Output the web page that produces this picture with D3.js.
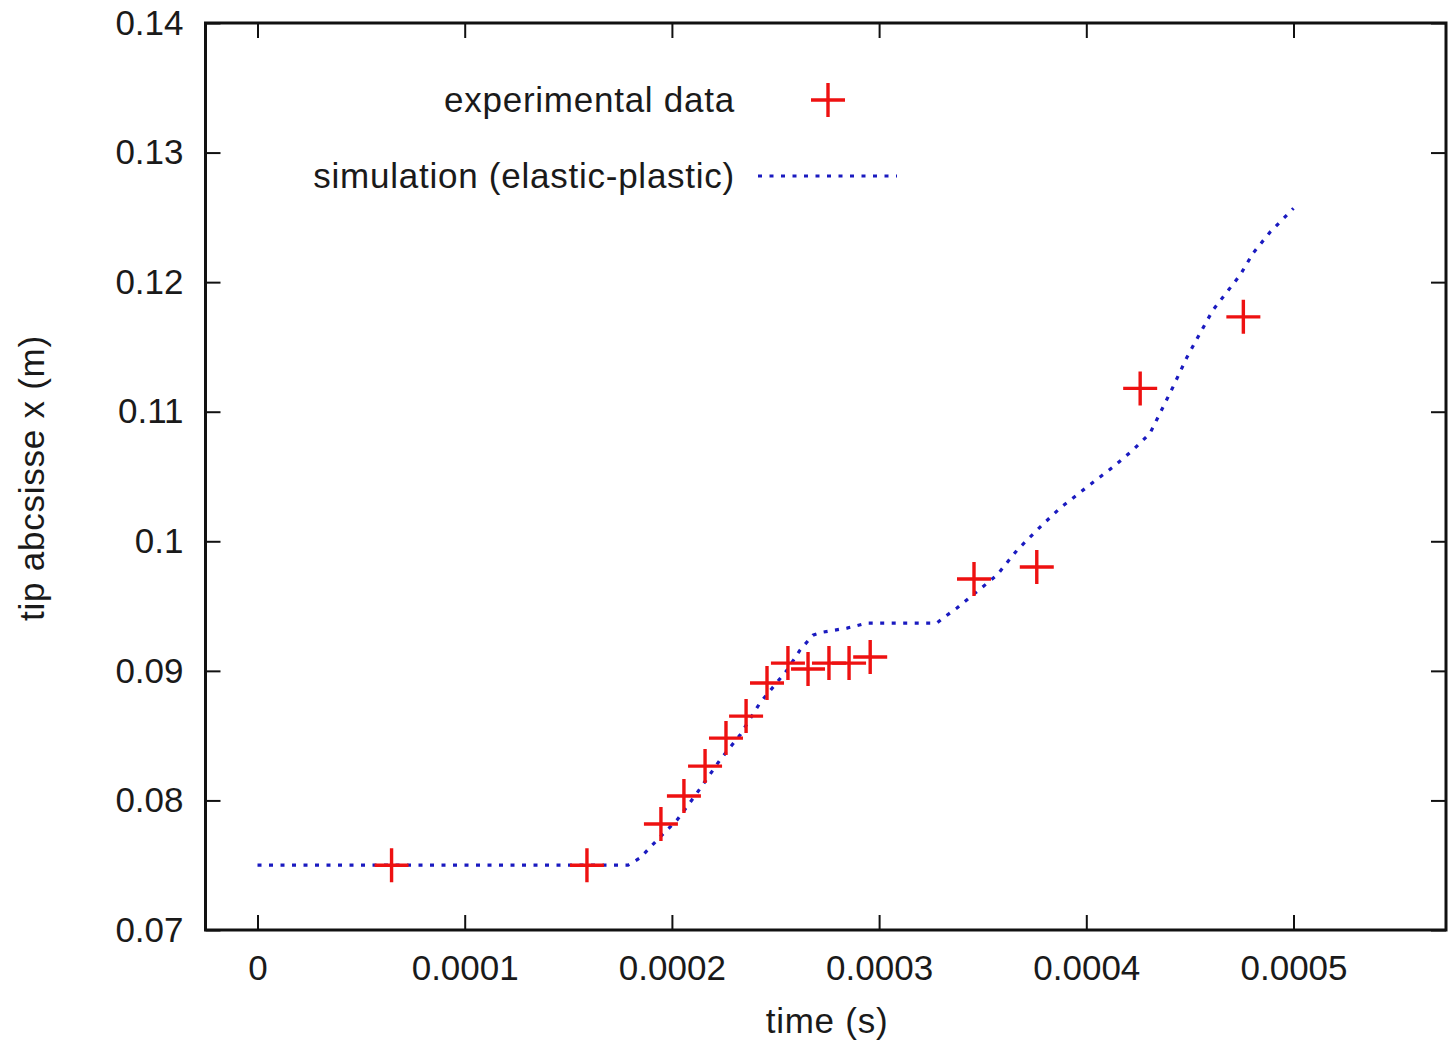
<!DOCTYPE html>
<html>
<head>
<meta charset="UTF-8">
<title>tip abcsisse vs time</title>
<script src="https://cdn.jsdelivr.net/npm/d3@7"></script>
<style>
    body { margin: 0; background: #fff; }
    svg text { font-family: "Liberation Sans", Arial, Helvetica, sans-serif; fill: #1a1a1a; }
    svg text.label { letter-spacing: 0.75px; }
</style>
</head>
<body>
<div id="chart"></div>
<script>
    const expTime = [0.0000647, 0.000159, 0.0001947, 0.0002058, 0.000216, 0.0002261, 0.0002358,
        0.0002459, 0.000256, 0.0002657, 0.0002758, 0.0002855, 0.0002957, 0.0003458,
        0.0003761, 0.000426, 0.0004758];
    const expX = [0.075, 0.075, 0.07818, 0.08034, 0.08265, 0.08481, 0.08651,
        0.08906, 0.0906, 0.09014, 0.0906, 0.0906, 0.09107, 0.09709,
        0.09801, 0.1118, 0.11732];

    // simulation (elastic-plastic)
    const simTime = [0, 0.0001788, 0.0001846, 0.0001943, 0.0002025, 0.0002121, 0.0002232, 0.0002329,
        0.0002425, 0.0002556, 0.0002618, 0.0002681, 0.0002729, 0.0002845, 0.0002942, 0.0003279,
        0.0003308, 0.0003376, 0.0003463, 0.0003569, 0.0003666, 0.0003777, 0.0003873, 0.0004003,
        0.0004129, 0.0004225, 0.0004308, 0.0004356, 0.0004418, 0.0004486, 0.0004549, 0.0004611,
        0.0004742, 0.0004805, 0.0004887, 0.0005];
    const simX = [0.075, 0.075, 0.07556, 0.07718, 0.07849, 0.08057, 0.08312, 0.08505,
        0.08752, 0.09006, 0.0916, 0.09276, 0.09299, 0.0933, 0.09369, 0.09369,
        0.09407, 0.09485, 0.096, 0.09739, 0.09932, 0.1011, 0.10256, 0.10418,
        0.10573, 0.10704, 0.10835, 0.10989, 0.1119, 0.11421, 0.11606, 0.11784,
        0.12054, 0.12224, 0.12386, 0.1257];

    const xTicks = [0, 0.0001, 0.0002, 0.0003, 0.0004, 0.0005];
    const xTickLabels = ["0", "0.0001", "0.0002", "0.0003", "0.0004", "0.0005"];
    const yTicks = [0.07, 0.08, 0.09, 0.1, 0.11, 0.12, 0.13, 0.14];
    const yTickLabels = ["0.07", "0.08", "0.09", "0.1", "0.11", "0.12", "0.13", "0.14"];

    const legendLabels = ["experimental data", "simulation (elastic-plastic)"];

    const svgWidth = 1448, svgHeight = 1040;
    const plotLeft = 205.5, plotRight = 1446, plotTop = 23, plotBottom = 930;
    const fontSize = 35;

    const svg = d3.select("#chart").append("svg")
        .attr("width", svgWidth)
        .attr("height", svgHeight);

    const xScale = d3.scaleLinear().domain([-0.0000251, 0.0005736]).range([plotLeft, plotRight]);
    const yScale = d3.scaleLinear().domain([0.07, 0.14]).range([plotBottom, plotTop]);

    // axes, ticks pointing inward like gnuplot
    const fmtX = d => xTickLabels[xTicks.indexOf(d)];
    const fmtY = d => yTickLabels[yTicks.indexOf(d)];

    const axB = svg.append("g").attr("transform", `translate(0,${plotBottom})`)
        .call(d3.axisBottom(xScale).tickValues(xTicks).tickFormat(fmtX).tickSize(-15).tickPadding(25));
    const axT = svg.append("g").attr("transform", `translate(0,${plotTop})`)
        .call(d3.axisTop(xScale).tickValues(xTicks).tickFormat("").tickSize(-15));
    const axL = svg.append("g").attr("transform", `translate(${plotLeft},0)`)
        .call(d3.axisLeft(yScale).tickValues(yTicks).tickFormat(fmtY).tickSize(-15).tickPadding(22));
    const axR = svg.append("g").attr("transform", `translate(${plotRight},0)`)
        .call(d3.axisRight(yScale).tickValues(yTicks).tickFormat("").tickSize(-15));

    [axB, axT, axL, axR].forEach(a => {
        a.select(".domain").remove();
        a.selectAll(".tick line").attr("stroke", "#111").attr("stroke-width", 2);
        a.selectAll(".tick text").attr("font-size", fontSize).attr("font-family", null).attr("fill", "#1a1a1a");
    });

    // frame
    svg.append("rect")
        .attr("x", plotLeft).attr("y", plotTop)
        .attr("width", plotRight - plotLeft).attr("height", plotBottom - plotTop)
        .attr("fill", "none").attr("stroke", "#111").attr("stroke-width", 3);

    // axis titles
    svg.append("text").attr("class", "label")
        .attr("x", 827).attr("y", 1033)
        .attr("text-anchor", "middle").attr("font-size", fontSize)
        .text("time (s)");
    svg.append("text").attr("class", "label")
        .attr("transform", "translate(44,478) rotate(-90)")
        .attr("text-anchor", "middle").attr("font-size", fontSize)
        .text("tip abcsisse x (m)");

    // simulation line
    const simData = simTime.map((t, i) => ({t: t, x: simX[i]}));
    const line = d3.line().x(d => xScale(d.t)).y(d => yScale(d.x));
    const lineStyle = sel => sel.attr("fill", "none")
        .attr("stroke", "#1a1ac0")
        .attr("stroke-width", 3.2)
        .attr("stroke-dasharray", "4,7.5");

    svg.append("path").datum(simData).attr("d", line).call(lineStyle);

    // experimental crosses
    const crossPath = "M-17,0H17M0,-17V17";
    const expData = expTime.map((t, i) => ({t: t, x: expX[i]}));
    svg.selectAll("path.cross")
        .data(expData)
        .enter()
        .append("path")
        .attr("class", "cross")
        .attr("transform", d => `translate(${xScale(d.t)},${yScale(d.x)})`)
        .attr("d", crossPath)
        .attr("stroke", "#ee1111")
        .attr("stroke-width", 3.4)
        .attr("fill", "none");

    // legend
    svg.append("text").attr("class", "label")
        .attr("x", 735).attr("y", 112)
        .attr("text-anchor", "end").attr("font-size", fontSize)
        .text(legendLabels[0]);
    svg.append("path")
        .attr("transform", "translate(828,100)")
        .attr("d", crossPath)
        .attr("stroke", "#ee1111").attr("stroke-width", 3.4).attr("fill", "none");

    svg.append("text").attr("class", "label")
        .attr("x", 735).attr("y", 188)
        .attr("text-anchor", "end").attr("font-size", fontSize)
        .text(legendLabels[1]);
    svg.append("path")
        .attr("d", "M758,176H897")
        .call(lineStyle);
</script>
</body>
</html>
